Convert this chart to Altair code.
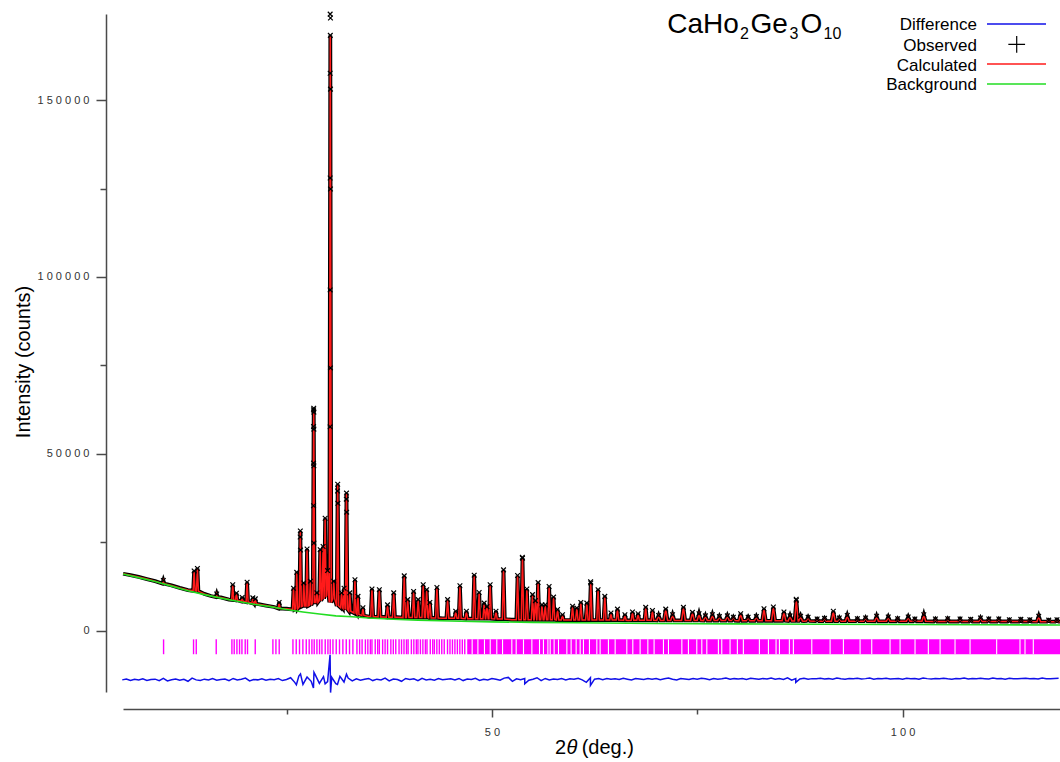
import altair as alt
import pandas as pd
import numpy as np

# ---------------- data (2-theta in degrees, intensity in counts) ----------------
# refined background
BG_2THETA = [5.1, 7, 9, 11, 13, 15, 17, 19, 21, 23, 25, 27, 29, 31, 33, 35, 38, 41,
             45, 50, 55, 60, 70, 80, 90, 100, 110, 119.2]
BG_COUNTS = [16030, 15000, 13900, 12600, 11300, 10200, 9200, 8300, 7500, 6800, 6000,
             5300, 4700, 4200, 3950, 3600, 3250, 3000, 2750, 2500, 2350, 2250, 2050,
             1920, 1820, 1750, 1680, 1620]

# lower envelope of the profile between reflections
BASE_2THETA = [5.1, 6, 7, 8, 9, 11, 12, 13, 15, 15.8, 17, 18, 21.6, 22.5, 23.5, 25,
               35.0, 36.8, 38.5, 44.0, 45.0, 47.2, 50.9, 52.4, 58.9, 64.8, 66.6, 70.7,
               72.5, 79.9, 81.7, 88.0, 90.0, 95.0, 97.5, 100.0, 104.8, 106.3, 112.5,
               119.2]
BASE_COUNTS = [16100, 15700, 15200, 14600, 14000, 12800, 12100, 11500, 10400, 9800,
               9400, 8800, 7500, 7100, 6700, 6200, 4000, 3900, 3800, 3500, 3500, 3400,
               3300, 3100, 3000, 3000, 2900, 2900, 2900, 2800, 2800, 2700, 2700, 2700,
               2650, 2650, 2600, 2600, 2600, 2550]

# reflections: position, calculated peak top, profile level at the peak foot
PEAK_2THETA = [10.0, 13.75, 14.15, 16.5, 18.45, 18.9, 19.6, 20.2, 20.9, 21.2, 24.1,
               25.85, 26.24, 26.68, 27.1, 27.5, 27.9, 28.31, 28.7, 29.1, 29.45, 29.7,
               30.0, 30.33, 30.75, 31.23, 31.7, 32.0, 32.3, 32.7, 33.33, 33.7, 34.3,
               35.4, 36.3, 37.3, 38.05, 39.33, 39.75, 40.47, 41.03, 41.64, 42.06, 42.45,
               43.31, 44.61, 45.6, 46.11, 46.9, 47.85, 48.45, 49.06, 49.4, 49.79, 50.5,
               51.42, 53.13, 53.73, 54.26, 54.95, 55.3, 55.63, 56.1, 56.5, 56.97, 57.51,
               58.0, 58.6, 59.82, 60.34, 60.83, 61.56, 62.04, 62.93, 63.75, 64.5, 65.29,
               66.2, 67.12, 67.8, 68.73, 69.55, 70.3, 71.17, 72.0, 73.32, 74.42, 75.22,
               76.0, 76.85, 77.7, 78.67, 79.4, 80.29, 81.2, 82.2, 83.13, 84.27, 85.56,
               86.3, 87.07, 87.59, 88.5, 89.6, 90.5, 91.57, 92.3, 93.27, 94.5, 95.5,
               96.84, 98.26, 99.4, 100.69, 101.5, 102.59, 104.0, 105.5, 107.0, 108.3,
               109.49, 110.5, 111.72, 113.0, 114.4, 115.5, 116.58, 117.8, 118.8]
PEAK_TOP = [14200, 16900, 17600, 10400, 13000, 10600, 9400, 13700, 9300, 9000, 8000,
            12000, 16500, 28200, 13500, 23100, 14000, 62900, 10700, 22900, 23800, 31800,
            17000, 168300, 14000, 41400, 10700, 12000, 38900, 10700, 14400, 9700, 6500,
            11800, 11600, 7300, 10700, 15500, 8800, 11100, 8800, 13000, 11600, 8000,
            12200, 8800, 5500, 12700, 5500, 15700, 10800, 7800, 6800, 13000, 5500,
            17200, 15600, 20500, 11800, 10200, 8500, 13600, 7300, 7300, 12500, 9500,
            6000, 4500, 6900, 6400, 8000, 7800, 13500, 11600, 9700, 5000, 6100,
            4500, 5300, 4800, 6600, 5700, 4300, 6100, 4500, 6600, 5200, 4800,
            4200, 4500, 4000, 4200, 3800, 4800, 3800, 4000, 6200, 6700, 5300,
            4200, 8600, 4100, 3800, 3300, 3500, 5500, 3600, 4300, 3400, 3600,
            4100, 3900, 3400, 3900, 3300, 4500, 3300, 3400, 3300, 3200,
            3600, 3300, 3300, 3100, 3200, 3100, 4100, 3000, 3100]
PEAK_FOOT = [13300, 11300, 11200, 9500, 8700, 8600, 8300, 8100, 7800, 7600, 6300,
             6000, 6200, 6800, 7000, 7000, 7200, 8000, 8000, 8500, 9000, 9500,
             10000, 8000, 9000, 7000, 6500, 6300, 6000, 5500, 5000, 4600, 4300,
             4000, 3900, 3800, 3800, 3700, 3700, 3700, 3700, 3700, 3700, 3600,
             3600, 3500, 3500, 3500, 3400, 3400, 3400, 3400, 3400, 3400, 3300,
             3300, 3100, 3100, 3100, 3100, 3100, 3100, 3100, 3100, 3100, 3100,
             3000, 3000, 3000, 3000, 3000, 3000, 3000, 3000, 3000, 3000, 3000,
             2950, 2950, 2950, 2950, 2950, 2900, 2900, 2900, 2900, 2900, 2900,
             2850, 2850, 2850, 2850, 2850, 2800, 2800, 2800, 2800, 2800, 2800,
             2750, 2750, 2750, 2750, 2700, 2700, 2700, 2700, 2700, 2700, 2700,
             2650, 2650, 2650, 2650, 2650, 2650, 2600, 2600, 2600, 2600,
             2600, 2600, 2600, 2600, 2600, 2600, 2550, 2550, 2550]

# observed points standing off the calculated curve
OBS_EXTRA_2THETA = [30.31, 30.35, 30.31, 30.35, 30.31, 30.35, 30.31, 30.35, 30.31,
                    28.29, 28.33, 28.29, 28.33, 28.29, 28.33, 28.29, 28.33,
                    31.21, 31.25, 32.28, 32.32, 26.66, 26.70, 53.71, 87.05, 62.02]
OBS_EXTRA_COUNTS = [174300, 173200, 157600, 153100, 127970, 124860, 96330, 74290, 57630,
                    62430, 61780, 57700, 56980, 47370, 46610, 35310, 24770,
                    39500, 36000, 37200, 33500, 26500, 22800, 20750, 8880, 13850]

# difference curve, 0.5 degree steps from 5.0 to 119.0
DIFF_COUNTS = [
    -13900, -13650, -14100, -13750, -13950, -13600, -14050, -13800, -13700, -14150,
    -13500, -14200, -13850, -13650, -14000, -13750, -14300, -13400, -13900, -14100,
    -13700, -13950, -13550, -14000, -13800, -13650, -14150, -13500, -13950, -13700,
    -13400, -14200, -13800, -13900, -13600, -14000, -13750, -13850, -13550, -14100,
    -13800, -13300, -14600, -12800, -15200, -13100, -14300, -12500, -14900, -13000,
    -14400, -13200, -15000, -12900, -14500, -13400, -14200, -13600, -14000, -13700,
    -13500, -14100, -13700, -13900, -13400, -14200, -13650, -13800, -14300, -13500,
    -13800, -13600, -14150, -13450, -13900, -13700, -14000, -13550, -13850, -13700,
    -13600, -13950, -13500, -14100, -13650, -13800, -13450, -14050, -13700, -13900,
    -13550, -13750, -14000, -13400, -13200, -14300, -13600, -13850, -13500, -14000,
    -13700, -13300, -14100, -13500, -13950, -13650, -13800, -13500, -13900, -13600,
    -13750, -13450, -13900, -14600, -13300, -13700, -13550, -13850, -13500, -13750,
    -13600, -13800, -13450, -13700, -13950, -13500, -13650, -13800, -13550, -13700,
    -13500, -13850, -13600, -13400, -13750, -13950, -13500, -13650, -13800, -13550,
    -13700, -13450, -13600, -13850, -13500, -13700, -13600, -13400, -13750, -13550,
    -13650, -13500, -13800, -13450, -13600, -13750, -13500, -13650, -13400, -13700,
    -13550, -13800, -13300, -14000, -13550, -13650, -13450, -13700, -13550, -13600,
    -13450, -13650, -13550, -13700, -13400, -13600, -13750, -13500, -13600, -13450,
    -13650, -13550, -13400, -13700, -13500, -13600, -13450, -13650, -13550, -13500,
    -13700, -13450, -13600, -13500, -13750, -13400, -13550, -13650, -13500, -13600,
    -13450, -13600, -13700, -13500, -13550, -13400, -13650, -13500, -13600, -13450,
    -13550, -13650, -13400, -13600, -13500, -13700, -13450, -13550, -13600, -13500,
    -13450, -13600, -13500, -13650, -13400, -13550, -13600, -13500, -13450]
# sharp misfit excursions at the strong reflections
DIFF_SPIKE_2THETA = [26.2, 26.7, 28.28, 28.34, 29.7, 30.3, 30.36, 31.2, 32.3, 54.0,
                     62.0, 87.0]
DIFF_SPIKE_COUNTS = [-15300, -12200, -16200, -11800, -15000, -6800, -17500, -15200,
                     -12300, -15000, -15500, -14600]

# Bragg reflection markers: individual lines, then a dense band with narrow gaps
TICK_2THETA = [10.03, 13.68, 14.01, 16.44, 18.35, 18.63, 18.96, 19.28, 19.57, 19.97,
               20.25, 21.19, 23.34, 23.71, 24.11, 25.78, 26.18, 26.58, 26.99, 27.40,
               27.76, 28.09, 28.37, 28.70, 29.02, 29.31, 29.71, 30.04, 30.32, 30.65,
               31.05, 31.45, 31.86, 32.27, 32.67, 33.08, 33.57, 33.9, 34.2, 34.6, 34.9,
               35.2, 35.4, 35.8, 36.1, 36.3, 36.7, 37.0, 37.3, 37.7, 38.0, 38.3, 38.7,
               39.0, 39.3, 39.6, 39.8, 40.2, 40.5, 40.8, 41.0, 41.3, 41.6, 41.9, 42.1,
               42.5, 42.8, 43.0, 43.3, 43.6, 43.9, 44.2, 44.6, 44.9, 45.2, 45.5, 45.8,
               46.1, 46.4, 46.7]
BAND_START = [47.0]
BAND_END = [119.2]
GAP_2THETA = [47.6, 48.3, 49.1, 49.8, 50.6, 51.3, 52.43, 52.96, 53.85, 54.87, 55.80,
              56.28, 56.82, 57.10, 57.58, 58.11, 59.13, 59.65, 60.26, 60.75, 61.15,
              61.88, 62.78, 63.18, 64.19, 65.01, 66.43, 67.16, 68.05, 68.99, 69.75,
              70.89, 71.50, 73.13, 73.93, 74.95, 75.56, 76.17, 77.58, 77.99, 79.00,
              79.89, 80.62, 82.57, 83.67, 84.60, 85.01, 86.22, 86.71, 88.95, 91.18,
              92.80, 94.83, 96.25, 98.48, 99.70, 101.52, 103.14, 104.57, 106.39,
              108.22, 111.46, 114.30, 114.91, 115.92]
TICK_LOW, TICK_HIGH = -6650, -2450

# ---------------- frames ----------------
def half_width(p):
    return 0.12 if p < 35 else (0.15 if p < 70 else 0.22)

verts = []
windows = []
for p, top, foot in zip(PEAK_2THETA, PEAK_TOP, PEAK_FOOT):
    h = half_width(p)
    verts += [(p - h, foot), (p, top), (p + h, foot)]
    windows.append((p - h, p + h))
for t, c in zip(BASE_2THETA, BASE_COUNTS):
    if not any(a <= t <= b for a, b in windows):
        verts.append((t, c))
verts.sort()
profile = pd.DataFrame(verts, columns=["t", "v"])

bg = pd.DataFrame({"t": BG_2THETA, "v": BG_COUNTS})
obs = pd.DataFrame({"t": PEAK_2THETA + OBS_EXTRA_2THETA,
                    "v": PEAK_TOP + OBS_EXTRA_COUNTS})
diff_t = list(np.arange(5.0, 119.01, 0.5)) + DIFF_SPIKE_2THETA
diff_v = DIFF_COUNTS + DIFF_SPIKE_COUNTS
diff = pd.DataFrame({"t": diff_t, "v": diff_v}).sort_values("t")
ticks = pd.DataFrame({"t": TICK_2THETA, "v": TICK_LOW, "v2": TICK_HIGH})
band = pd.DataFrame({"t": BAND_START, "t2": BAND_END, "v": TICK_LOW, "v2": TICK_HIGH})
gaps = pd.DataFrame({"t": GAP_2THETA, "v": TICK_LOW, "v2": TICK_HIGH})

# ---------------- scales & axes ----------------
FONT = "Liberation Sans"
AX_COLOR = "#4a4a4a"
xscale = alt.Scale(domain=[5.09, 119.17], nice=False, zero=False)
yscale = alt.Scale(domain=[-17330, 174340], nice=False, zero=False)

x_axis = alt.Axis(
    values=[25, 50, 75, 100], title=None, grid=False, offset=17,
    domainColor=AX_COLOR, domainWidth=1.5, tickColor=AX_COLOR, tickWidth=1.5,
    tickSize={"condition": {"test": "datum.value % 50 === 0", "value": 8}, "value": 5},
    labelExpr="datum.value == 50 ? '5 0' : datum.value == 100 ? '1 0 0' : ''",
    labelFont=FONT, labelFontSize=11, labelColor="#333333", labelPadding=9,
)
y_axis = alt.Axis(
    values=[0, 25000, 50000, 75000, 100000, 125000, 150000], title=None, grid=False,
    offset=17, domainColor=AX_COLOR, domainWidth=1.5, tickColor=AX_COLOR,
    tickWidth=1.5,
    tickSize={"condition": {"test": "datum.value % 50000 === 0", "value": 10},
              "value": 6},
    labelExpr=("datum.value == 0 ? '0' : datum.value == 50000 ? '5 0 0 0 0' : "
               "datum.value == 100000 ? '1 0 0 0 0 0' : "
               "datum.value == 150000 ? '1 5 0 0 0 0' : ''"),
    labelFont=FONT, labelFontSize=11, labelColor="#333333", labelPadding=7,
)

# every layer shares the same scales and axis definitions
X = alt.X("t:Q", scale=xscale, axis=x_axis)
Y = alt.Y("v:Q", scale=yscale, axis=y_axis)

MAGENTA = "#ff00ff"
band_layer = alt.Chart(band).mark_rect(color=MAGENTA).encode(
    x=X, x2="t2:Q", y=Y, y2="v2:Q")
tick_layer = alt.Chart(ticks).mark_rule(color=MAGENTA, strokeWidth=1.4).encode(
    x=X, y=Y, y2="v2:Q")
gap_layer = alt.Chart(gaps).mark_rule(color="white", strokeWidth=1.1).encode(
    x=X, y=Y, y2="v2:Q")
diff_layer = alt.Chart(diff).mark_line(color="#1010e8", strokeWidth=1.5).encode(
    x=X, y=Y, order="t:Q")
obs_band = alt.Chart(profile).mark_line(color="black", strokeWidth=3.8).encode(
    x=X, y=Y, order="t:Q")
calc_layer = alt.Chart(profile).mark_line(color="#ff1a1a", strokeWidth=1.5).encode(
    x=X, y=Y, order="t:Q")
obs_layer = alt.Chart(obs).mark_point(
    shape="M-1,-1L1,1M-1,1L1,-1", size=22, filled=False, stroke="black",
    strokeWidth=1.2, opacity=1).encode(x=X, y=Y)
bg_layer = alt.Chart(bg).mark_line(color="#22dd22", strokeWidth=1.6).encode(
    x=X, y=Y, order="t:Q")

one = pd.DataFrame({"k": [0]})


def label(text, x, y, size, align="left", angle=0, style="normal", color="black"):
    return alt.Chart(one).mark_text(
        text=text, font=FONT, fontSize=size, align=align, baseline="alphabetic",
        angle=angle, fontStyle=style, color=color,
    ).encode(x=alt.value(x), y=alt.value(y))


# plot-area origin sits at page (123, 14)
texts = [
    # axis titles
    label("2", 432, 739.5, 20),
    label("θ", 443.5, 739.5, 20, style="italic"),
    label("(deg.)", 458.7, 739.5, 20),
    label("Intensity (counts)", -93, 348, 20, align="center", angle=270),
    # compound formula
    label("CaHo", 544.3, 18.7, 28),
    label("2", 617, 25.3, 16),
    label("Ge", 627.5, 18.7, 28),
    label("3", 666.5, 25.3, 16),
    label("O", 677.5, 18.7, 28),
    label("10", 700.5, 25.3, 16),
    # key
    label("Difference", 854, 16.3, 17, align="right"),
    label("Observed", 854, 36.5, 17, align="right"),
    label("Calculated", 854, 56.5, 17, align="right"),
    label("Background", 854, 76.3, 17, align="right"),
]


def key_line(y, color):
    return alt.Chart(one).mark_rule(color=color, strokeWidth=1.5).encode(
        x=alt.value(864), x2=alt.value(923), y=alt.value(y))


keys = [
    key_line(10, "#1010e8"),
    key_line(50, "#ff1a1a"),
    key_line(70, "#22dd22"),
    alt.Chart(one).mark_point(shape="M-1,0L1,0M0,-1L0,1", size=280, filled=False,
                              stroke="black", strokeWidth=1.2, opacity=1).encode(
        x=alt.value(893.7), y=alt.value(30.3)),
]

chart = alt.layer(
    band_layer, tick_layer, gap_layer, diff_layer, obs_band, calc_layer, obs_layer,
    bg_layer, *texts, *keys
).properties(
    width=937, height=678,
    padding={"left": 123, "top": 14, "right": 0, "bottom": 70},
    autosize=alt.AutoSizeParams(type="none"),
    background="white",
).configure_view(stroke=None)

chart.save("out.html", embed_options={"renderer": "svg", "actions": False})
